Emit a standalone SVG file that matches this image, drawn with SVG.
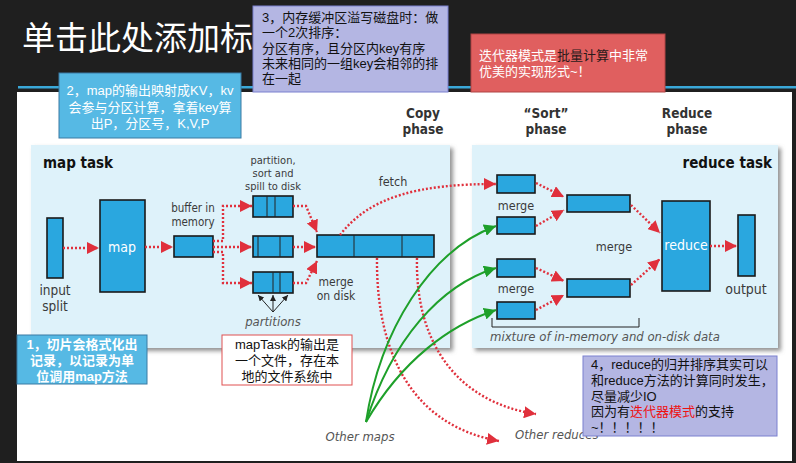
<svg xmlns="http://www.w3.org/2000/svg" width="796" height="463" viewBox="0 0 796 463">
<style>
.d{font-family:"DejaVu Sans Condensed","Liberation Sans Narrow","Liberation Sans",sans-serif;fill:#3a3a3a;font-size:12.5px;text-anchor:middle}
.s{font-size:11px}
.h{font-weight:bold;font-size:13.5px;fill:#333}
.it{font-style:italic;fill:#555}
.cj{font-family:"Liberation Sans","Noto Sans CJK SC",sans-serif;font-size:13px}
.bx{fill:#2aa7df;stroke:#1a1a1a;stroke-width:1.6}
.rd{fill:none;stroke:#e0303c;stroke-width:2.4;stroke-dasharray:2 2}
.gr{fill:none;stroke:#1ea02a;stroke-width:2}
.bk{fill:none;stroke:#222;stroke-width:1}
</style>
<defs>
<marker id="ar" markerUnits="userSpaceOnUse" markerWidth="13" markerHeight="12" refX="12" refY="6" orient="auto" viewBox="0 0 13 12"><path d="M0,0 L12,6 L0,12 z" fill="#e0303c"/></marker>
<marker id="ag" markerUnits="userSpaceOnUse" markerWidth="13" markerHeight="12" refX="12" refY="6" orient="auto" viewBox="0 0 13 12"><path d="M0,0 L12,6 L0,12 z" fill="#1ea02a"/></marker>
<marker id="ak" markerUnits="userSpaceOnUse" markerWidth="7" markerHeight="6" refX="6" refY="3" orient="auto" viewBox="0 0 7 6"><path d="M0,0 L6,3 L0,6 z" fill="#222"/></marker>
<filter id="sh" x="-5%" y="-5%" width="115%" height="115%"><feDropShadow dx="3" dy="3" stdDeviation="2" flood-color="#777" flood-opacity="0.8"/></filter>
</defs>

<rect x="0" y="0" width="796" height="463" fill="#1f1f1f"/>
<rect x="17" y="92" width="775" height="369" fill="#ffffff"/>
<rect x="18" y="86" width="778" height="2.5" fill="#3aa8d8"/>
<text x="22" y="50" font-family="'Noto Sans CJK SC',sans-serif" font-size="33" fill="#ffffff">单击此处添加标</text>

<g id="panels">
<rect id="map-panel" x="31" y="145" width="419" height="203" fill="#def2fa" filter="url(#sh)"/>
<rect id="reduce-panel" x="472" y="145" width="306" height="203" fill="#def2fa" filter="url(#sh)"/>
</g>

<g id="phases">
<text class="d h" x="423" y="118">Copy</text>
<text class="d h" x="423" y="134">phase</text>
<text class="d h" x="546" y="118">“Sort”</text>
<text class="d h" x="546" y="134">phase</text>
<text class="d h" x="687" y="118">Reduce</text>
<text class="d h" x="687" y="134">phase</text>
</g>

<text class="d" x="43" y="168" style="text-anchor:start;font-weight:bold;font-size:15px;fill:#111">map task</text>
<text class="d" x="772" y="168" style="text-anchor:end;font-weight:bold;font-size:15px;fill:#111">reduce task</text>

<g id="input-split">
<rect class="bx" x="47" y="218" width="16" height="60"/>
<text class="d" x="55" y="295" style="font-size:13.5px">input</text>
<text class="d" x="55" y="311" style="font-size:13.5px">split</text>
</g>
<g id="map">
<rect class="bx" x="100" y="200" width="45" height="92"/>
<text class="d" x="122" y="252" style="fill:#fff;font-size:14px">map</text>
</g>
<g id="buffer">
<rect class="bx" x="174" y="236" width="39" height="21"/>
<text class="d" x="193" y="212" style="font-size:11.5px">buffer in</text>
<text class="d" x="193" y="226" style="font-size:11.5px">memory</text>
</g>
<g id="spills">
<text class="d s" x="273" y="164">partition,</text>
<text class="d s" x="273" y="177">sort and</text>
<text class="d s" x="273" y="190">spill to disk</text>
<rect class="bx" x="253" y="196" width="40" height="21"/>
<line class="bk" x1="267" y1="196" x2="267" y2="217" stroke-width="1.6"/>
<line class="bk" x1="275" y1="196" x2="275" y2="217" stroke-width="1.6"/>
<rect class="bx" x="253" y="236" width="40" height="21"/>
<line class="bk" x1="258" y1="236" x2="258" y2="257" stroke-width="1.6"/>
<line class="bk" x1="280" y1="236" x2="280" y2="257" stroke-width="1.6"/>
<rect class="bx" x="253" y="272" width="40" height="21"/>
<line class="bk" x1="273" y1="272" x2="273" y2="293" stroke-width="1.6"/>
<line class="bk" x1="280" y1="272" x2="280" y2="293" stroke-width="1.6"/>
<text class="d it" x="273" y="326" style="font-size:13px">partitions</text>
</g>
<g id="merge-on-disk">
<rect class="bx" x="317" y="235" width="117" height="22"/>
<line class="bk" x1="354" y1="235" x2="354" y2="257" stroke-width="1.6"/>
<line class="bk" x1="402" y1="235" x2="402" y2="257" stroke-width="1.6"/>
<text class="d" x="336" y="286" style="font-size:12px">merge</text>
<text class="d" x="336" y="300" style="font-size:12px">on disk</text>
</g>
<text class="d" x="393" y="186">fetch</text>

<g id="reduce-inputs">
<rect class="bx" x="497" y="175" width="38" height="18"/>
<rect class="bx" x="497" y="217" width="38" height="17"/>
<text class="d" x="516" y="210">merge</text>
<rect class="bx" x="497" y="259" width="38" height="18"/>
<rect class="bx" x="497" y="302" width="38" height="17"/>
<text class="d" x="516" y="293">merge</text>
</g>
<g id="merged">
<rect class="bx" x="567" y="195" width="63" height="17"/>
<rect class="bx" x="567" y="279" width="63" height="18"/>
<text class="d" x="614" y="251">merge</text>
</g>
<g id="reduce">
<rect class="bx" x="662" y="201" width="48" height="90"/>
<text class="d" x="686" y="250" style="fill:#fff;font-size:14px">reduce</text>
</g>
<g id="output">
<rect class="bx" x="738" y="215" width="17" height="61"/>
<text class="d" x="746" y="294" style="font-size:14px">output</text>
</g>
<g id="mixture">
<path class="bk" d="M492,318 V327 H639 V318" stroke="#555"/>
<text class="d it" x="490" y="341" style="text-anchor:start;font-size:13px">mixture of in-memory and on-disk data</text>
</g>

<g id="connectors">
<line class="rd" x1="63" y1="248" x2="99" y2="248" marker-end="url(#ar)"/>
<line class="rd" x1="145" y1="247" x2="173" y2="247" marker-end="url(#ar)"/>
<polyline class="rd" points="213,241 223,241 223,206 252,206" marker-end="url(#ar)"/>
<line class="rd" x1="213" y1="247" x2="252" y2="247" marker-end="url(#ar)"/>
<polyline class="rd" points="213,252 223,252 223,283 252,283" marker-end="url(#ar)"/>
<polyline class="rd" points="293,206 306,206 317,232" marker-end="url(#ar)"/>
<line class="rd" x1="293" y1="247" x2="316" y2="247" marker-end="url(#ar)"/>
<polyline class="rd" points="293,283 306,283 317,261" marker-end="url(#ar)"/>
<line class="bk" x1="273" y1="312" x2="258" y2="295" marker-end="url(#ak)"/>
<line class="bk" x1="273" y1="312" x2="273" y2="295" marker-end="url(#ak)"/>
<line class="bk" x1="273" y1="312" x2="288" y2="295" marker-end="url(#ak)"/>
<path class="rd" d="M340,235 C370,196 420,184 496,184" marker-end="url(#ar)"/>
<path class="rd" d="M377,258 C376,350 410,425 499,441" marker-end="url(#ar)"/>
<path class="rd" d="M417,258 C415,340 455,402 536,414" marker-end="url(#ar)"/>
<path class="gr" d="M366,422 C380,330 430,250 496,226" marker-end="url(#ag)"/>
<path class="gr" d="M366,422 C392,340 440,285 496,268" marker-end="url(#ag)"/>
<path class="gr" d="M366,422 C402,360 450,325 496,310" marker-end="url(#ag)"/>
<line class="rd" x1="536" y1="183" x2="564" y2="197" marker-end="url(#ar)"/>
<line class="rd" x1="536" y1="226" x2="564" y2="210" marker-end="url(#ar)"/>
<line class="rd" x1="536" y1="268" x2="564" y2="281" marker-end="url(#ar)"/>
<line class="rd" x1="536" y1="310" x2="564" y2="295" marker-end="url(#ar)"/>
<line class="rd" x1="631" y1="205" x2="660" y2="233" marker-end="url(#ar)"/>
<line class="rd" x1="631" y1="285" x2="660" y2="259" marker-end="url(#ar)"/>
<line class="rd" x1="710" y1="246" x2="737" y2="246" marker-end="url(#ar)"/>
</g>
<text class="d it" x="360" y="441" style="font-size:13px">Other maps</text>
<text class="d it" x="515" y="439" style="text-anchor:start;font-size:13px">Other reduces</text>

<g id="note3">
<rect x="253" y="6" width="195" height="86" fill="#b4b6e3" stroke="#7b80cf" stroke-width="1"/>
<text class="cj" fill="#111"><tspan x="262" y="22">3，内存缓冲区溢写磁盘时：做</tspan><tspan x="262" y="37">一个2次排序：</tspan><tspan x="262" y="53">分区有序，且分区内key有序</tspan><tspan x="262" y="68">未来相同的一组key会相邻的排</tspan><tspan x="262" y="83">在一起</tspan></text>
</g>
<g id="note2">
<rect x="59" y="73" width="182" height="65" fill="#56b9e4" stroke="#3a7aa3" stroke-width="1"/>
<text class="cj" fill="#fff" text-anchor="middle"><tspan x="150" y="95">2，map的输出映射成KV，kv</tspan><tspan x="150" y="112">会参与分区计算，拿着key算</tspan><tspan x="150" y="128">出P，分区号，K,V,P</tspan></text>
</g>
<g id="note-iter">
<rect x="471" y="34" width="194" height="58" fill="#e05f5f" stroke="#b04444" stroke-width="1"/>
<text class="cj" fill="#fff"><tspan x="479" y="60">迭代器模式是<tspan fill="#2a1a1a">批量计算</tspan>中非常</tspan><tspan x="479" y="76">优美的实现形式~！</tspan></text>
</g>
<g id="note1">
<rect x="17" y="335" width="130" height="49" fill="#56b9e4" stroke="#3a7aa3" stroke-width="1"/>
<text class="cj" fill="#fff" font-weight="bold" text-anchor="middle"><tspan x="82" y="349">1，切片会格式化出</tspan><tspan x="82" y="365">记录，以记录为单</tspan><tspan x="82" y="381">位调用map方法</tspan></text>
</g>
<g id="note-maptask">
<rect x="222" y="335" width="130" height="50" fill="#ffffff" stroke="#e05050" stroke-width="1"/>
<text class="cj" fill="#111" text-anchor="middle"><tspan x="287" y="349">mapTask的输出是</tspan><tspan x="287" y="365">一个文件，存在本</tspan><tspan x="287" y="381">地的文件系统中</tspan></text>
</g>
<g id="note4">
<rect x="583" y="356" width="194" height="80" fill="#b4b6e3" stroke="#7b80cf" stroke-width="1"/>
<text class="cj" fill="#111"><tspan x="591" y="369">4，reduce的归并排序其实可以</tspan><tspan x="591" y="385">和reduce方法的计算同时发生，</tspan><tspan x="591" y="401">尽量减少IO</tspan><tspan x="591" y="416">因为有<tspan fill="#ee1111">迭代器模式</tspan>的支持</tspan><tspan x="591" y="432">~！！！！！</tspan></text>
</g>
</svg>
